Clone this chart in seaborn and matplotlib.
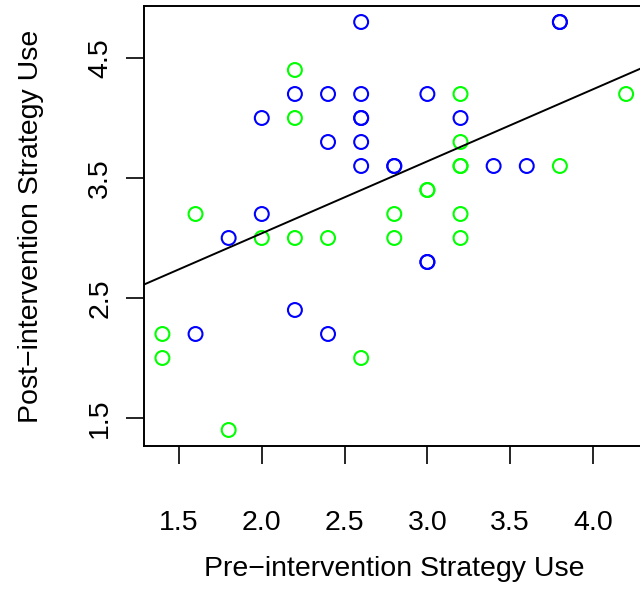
import numpy as np
import pandas as pd
import matplotlib
matplotlib.use("Agg")
import matplotlib.pyplot as plt
import seaborn as sns

# ---------------------------------------------------------
# data (two groups, pre vs post scores)
# ---------------------------------------------------------
blue_pre = [2.6, 3.8, 3.8, 2.2, 2.4, 2.6, 3.0, 2.0, 2.6, 2.6, 3.2, 2.4, 2.6,
            2.6, 2.8, 2.8, 3.4, 3.6, 2.0, 1.8, 3.0, 3.0, 2.2, 1.6, 2.4]
blue_post = [4.8, 4.8, 4.8, 4.2, 4.2, 4.2, 4.2, 4.0, 4.0, 4.0, 4.0, 3.8, 3.8,
             3.6, 3.6, 3.6, 3.6, 3.6, 3.2, 3.0, 2.8, 2.8, 2.4, 2.2, 2.2]

green_pre = [2.2, 2.2, 3.2, 4.2, 3.2, 3.2, 3.2, 3.8, 3.0, 3.0, 1.6, 2.8, 3.2,
             2.0, 2.2, 2.4, 2.8, 3.2, 1.4, 1.4, 2.6, 1.8]
green_post = [4.4, 4.0, 4.2, 4.2, 3.8, 3.6, 3.6, 3.6, 3.4, 3.4, 3.2, 3.2, 3.2,
              3.0, 3.0, 3.0, 3.0, 3.0, 2.2, 2.0, 2.0, 1.4]

x_ticks = [1.5, 2.0, 2.5, 3.0, 3.5, 4.0]
y_ticks = [1.5, 2.5, 3.5, 4.5]

df = pd.DataFrame({
    "pre": blue_pre + green_pre,
    "post": blue_post + green_post,
    "group": ["blue"] * len(blue_pre) + ["green"] * len(green_pre),
})

sns.set_style("white")
plt.rcParams["font.family"] = ["Liberation Sans", "DejaVu Sans"]
plt.rcParams["text.color"] = "black"
plt.rcParams["axes.labelcolor"] = "black"
plt.rcParams["xtick.color"] = "black"
plt.rcParams["ytick.color"] = "black"

fig = plt.figure(figsize=(6.4, 5.92), dpi=100)
ax = fig.add_axes([0.2248, 0.2461, 0.7825, 0.7443])

# R-style axis range: data range padded by 4%
xr = df["pre"].max() - df["pre"].min()
yr = df["post"].max() - df["post"].min()
ax.set_xlim(df["pre"].min() - 0.04 * xr, df["pre"].max() + 0.04 * xr)
ax.set_ylim(df["post"].min() - 0.04 * yr, df["post"].max() + 0.04 * yr)

sns.scatterplot(data=df, x="pre", y="post", hue="group",
                palette={"blue": "#0000FF", "green": "#00FF00"},
                marker="o", s=100, linewidth=1.5, legend=False, ax=ax)
# hollow circles like R's pch=1
coll = ax.collections[0]
coll.set_edgecolors(coll.get_facecolors())
coll.set_facecolors("none")

sns.regplot(data=df, x="pre", y="post", scatter=False, ci=None,
            truncate=False, color="black", line_kws={"linewidth": 1.4}, ax=ax)

ax.set_xticks(x_ticks)
ax.set_xticklabels([f"{v:.1f}" for v in x_ticks])
ax.set_yticks(y_ticks)
ax.set_yticklabels([f"{v:.1f}" for v in y_ticks])
ax.tick_params(axis="both", direction="out", length=13, width=1.2,
               labelsize=20.5, color="black", labelcolor="black",
               left=True, bottom=True)
ax.tick_params(axis="x", pad=33)
ax.tick_params(axis="y", pad=9, labelrotation=90)
for t in ax.get_yticklabels():
    t.set_va("center")

for side in ax.spines.values():
    side.set_color("black")
    side.set_linewidth(1.4)

ax.set_xlabel("Pre\u2212intervention Strategy Use", fontsize=20.5,
              labelpad=14, color="black")
ax.set_ylabel("Post\u2212intervention Strategy Use", fontsize=20.5,
              labelpad=31, color="black")

fig.savefig("out.png", dpi=100)
